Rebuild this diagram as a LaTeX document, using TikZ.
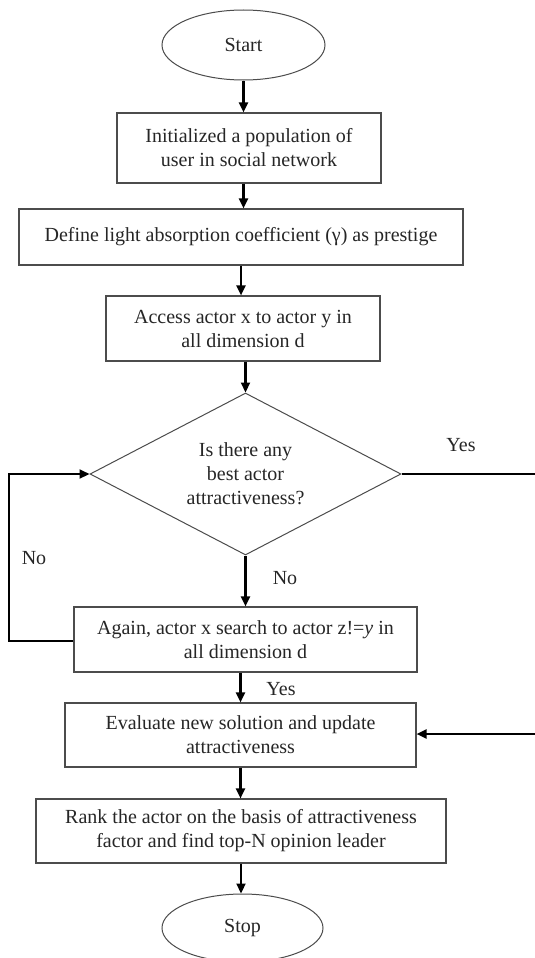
\documentclass[tikz,border=0pt]{standalone}
\usepackage{fontspec}
\setmainfont{Liberation Serif}
\usetikzlibrary{shapes.geometric,arrows.meta}
\begin{document}
\begin{tikzpicture}[x=1pt,y=-1pt,
  every node/.style={font=\fontsize{20}{24}\selectfont, text=black!85},
  procbox/.style={draw=black!70, line width=1.1pt, rectangle, inner sep=0pt, align=center},
  term/.style={draw=black!70, line width=1pt, ellipse, inner sep=0pt},
  decide/.style={draw=black!70, line width=1pt, diamond, aspect=1.92, inner sep=0pt, align=center},
  flow/.style={draw=black, line width=2.2pt, -{Triangle[length=10pt,width=9pt]}},
  plain/.style={draw=black, line width=2.2pt},
  lbl/.style={inner sep=0pt}]
\useasboundingbox (0,0) rectangle (535,958);
\fill[white] (0,0) rectangle (535,958);

\node[term, minimum width=163pt, minimum height=70pt] (start) at (243.5,45) {Start};
\node[procbox, minimum width=264pt, minimum height=70pt] (b1) at (249,148) {Initialized a population of\\user in social network};
\node[procbox, minimum width=444pt, minimum height=56pt] (b2) at (241,237) {Define light absorption coefficient (γ) as prestige};
\node[procbox, minimum width=274pt, minimum height=65pt] (b3) at (243,328.5) {Access actor x to actor y in\\all dimension d};
\node[decide, minimum width=311pt, minimum height=162pt] (dia) at (245.5,474) {Is there any\\best actor\\attractiveness?};
\node[procbox, minimum width=343pt, minimum height=65pt] (b4) at (245.5,639.5) {Again, actor x search to actor z!=\textit{y} in\\all dimension d};
\node[procbox, minimum width=351pt, minimum height=64pt] (b5) at (240.5,735) {Evaluate new solution and update\\attractiveness};
\node[procbox, minimum width=410pt, minimum height=64pt] (b6) at (241,831) {Rank the actor on the basis of attractiveness\\factor and find top-N opinion leader};
\node[term, minimum width=161pt, minimum height=68pt] (stop) at (242.5,928) {Stop};

\coordinate (r1) at (537,474);
\coordinate (r2) at (537,734);
\coordinate (lc) at (9,641);

\draw[flow] (start.south) -- (start.south |- b1.north);
\draw[flow] (b1.south -| start.south) -- (start.south |- b2.north);
\draw[flow] (b2.south) -- (b2.south |- b3.north);
\draw[flow] (dia.north |- b3.south) -- (dia.north);
\draw[flow] (dia.south) -- (dia.south |- b4.north);
\draw[flow] (b4.south -| b5.north) -- (b5.north);
\draw[flow] (b5.south) -- (b5.south |- b6.north);
\draw[flow] (b6.south) -- (b6.south |- stop.north);
\draw[plain] (dia.east) -- (r1);
\draw[flow] (r2) -- (b5.east |- r2);
\draw[flow] (b4.west |- lc) -- (lc) |- (dia.west);

\node[lbl] (yes1) at (461,445) {Yes};
\node[lbl] (no1) at (34,558) {No};
\node[lbl] (no2) at (285,578) {No};
\node[lbl] (yes2) at (281,689) {Yes};
\end{tikzpicture}
\end{document}
